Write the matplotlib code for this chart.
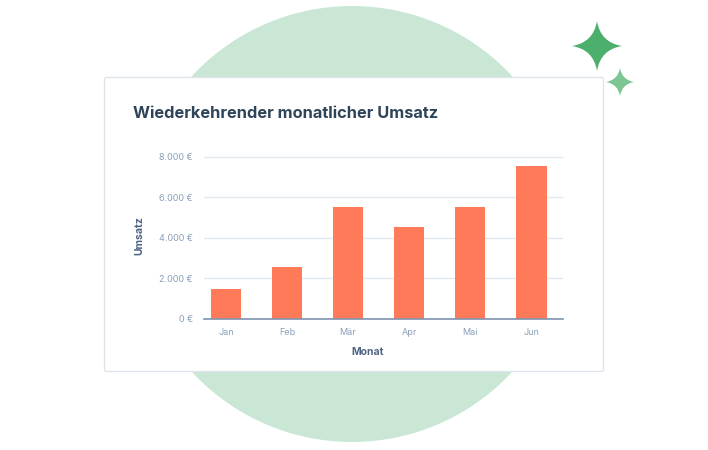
import numpy as np
import matplotlib
matplotlib.use("Agg")
import matplotlib.pyplot as plt
from matplotlib.patches import Circle, FancyBboxPatch, PathPatch
from matplotlib.path import Path
from matplotlib.ticker import FuncFormatter

# data
months = ["Jan", "Feb", "Mär", "Apr", "Mai", "Jun"]
revenue = [1500, 2550, 5500, 4550, 5500, 7550]
yticks = [0, 2000, 4000, 6000, 8000]

title = "Wiederkehrender monatlicher Umsatz"
xlabel = "Monat"
ylabel = "Umsatz"

plt.rcParams["font.family"] = ["Inter", "DejaVu Sans"]

W, H = 708, 450
fig = plt.figure(figsize=(W / 100, H / 100), dpi=100)

# background layer in pixel coords
bg = fig.add_axes([0, 0, 1, 1], zorder=0)
bg.set_xlim(0, W)
bg.set_ylim(H, 0)
bg.axis("off")

bg.add_patch(Circle((352, 224), 218, color="#cae7d5", lw=0))


def sparkle(cx, cy, r, color):
    k = 0.14 * r
    verts = [(cx, cy - r), (cx + k, cy - k), (cx + r, cy),
             (cx + k, cy + k), (cx, cy + r),
             (cx - k, cy + k), (cx - r, cy),
             (cx - k, cy - k), (cx, cy - r)]
    codes = [Path.MOVETO] + [Path.CURVE3] * 8
    bg.add_patch(PathPatch(Path(verts, codes), color=color, lw=0))


sparkle(597, 46, 25, "#4caf6b")
sparkle(620, 82, 14, "#7dc593")

bg.add_patch(FancyBboxPatch((104.5, 77.5), 499, 294,
                            boxstyle="round,pad=0,rounding_size=2",
                            facecolor="white", edgecolor="#dde4ec", lw=1))

fig.text(133 / W, 1 - 113 / H, title, fontsize=11.8, fontweight="bold",
         color="#2e4459", va="center", ha="left")

# chart axes
x0, x1 = 204, 563
y0 = 319
ymax = 8100
ph = (y0 - 156.7) * ymax / 8000
ax = fig.add_axes([x0 / W, 1 - y0 / H, (x1 - x0) / W, ph / H], zorder=1)
ax.patch.set_alpha(0)

x = np.arange(len(months))
ax.bar(x, revenue, width=0.5, color="#ff7a59", zorder=2)
ax.set_xlim(-0.36, len(months) - 1 + 0.52)
ax.set_ylim(0, ymax)
ax.set_yticks(yticks)
ax.yaxis.set_major_formatter(FuncFormatter(lambda v, p: f"{int(v):,} €".replace(",", ".")))
ax.set_xticks(x)
ax.set_xticklabels(months)
ax.grid(axis="y", color="#e3e9f0", lw=1)
ax.set_axisbelow(True)
for s in ["top", "right", "left"]:
    ax.spines[s].set_visible(False)
ax.spines["bottom"].set_color("#7d93ad")
ax.spines["bottom"].set_linewidth(1.2)
ax.tick_params(length=0, labelsize=6.5, labelcolor="#8aa0b8")
ax.tick_params(axis="y", pad=8)
ax.tick_params(axis="x", pad=6.5)

ax.set_xlabel(xlabel, fontsize=7.5, fontweight="bold", color="#4d6582")
ax.set_ylabel(ylabel, fontsize=7.5, fontweight="bold", color="#4d6582")
ax.xaxis.set_label_coords((368 - x0) / (x1 - x0), -(352 - y0) / ph)
ax.yaxis.set_label_coords((139 - x0) / (x1 - x0), (y0 - 236) / ph)
ax.xaxis.label.set_va("center")
ax.yaxis.label.set_va("center")

fig.savefig("out.png", dpi=100)
plt.close(fig)
